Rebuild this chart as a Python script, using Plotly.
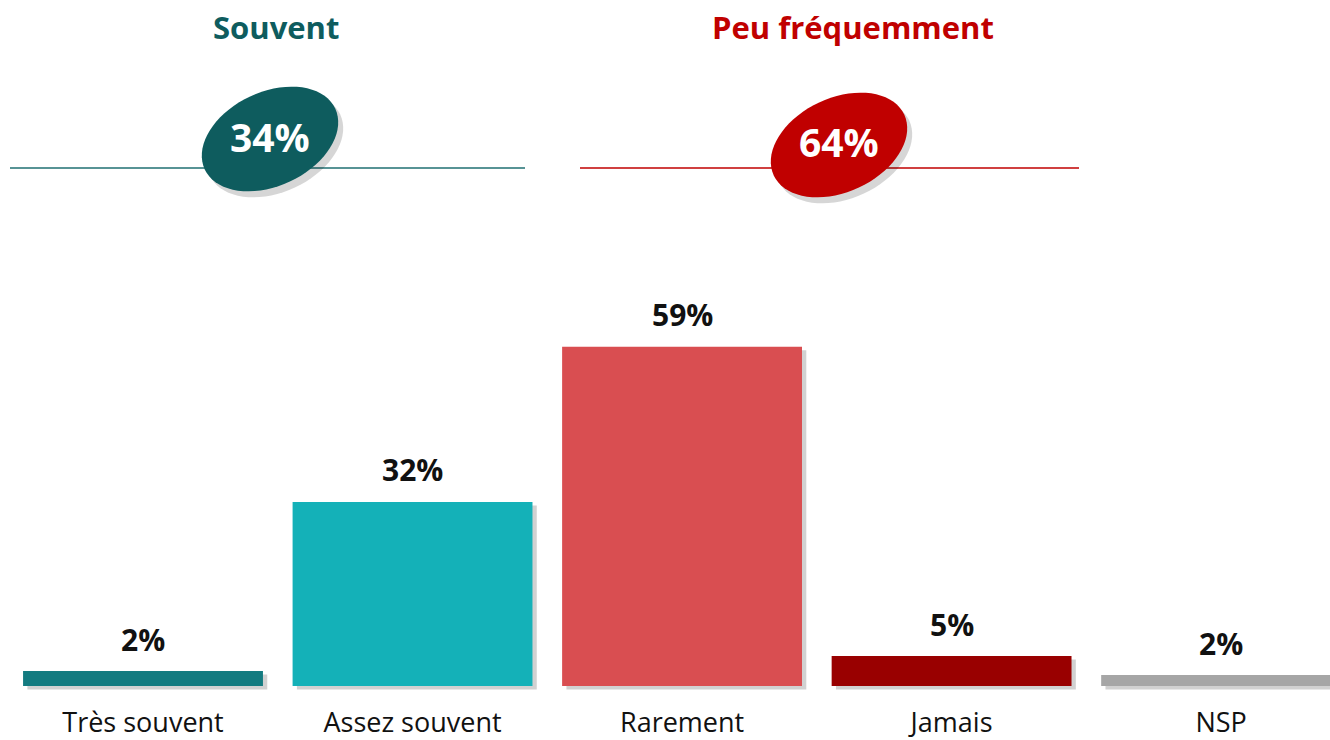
import math
import plotly.graph_objects as go

categories = ["Très souvent", "Assez souvent", "Rarement", "Jamais", "NSP"]
values = [2.6, 32, 59, 5.2, 1.9]
value_labels = ["2%", "32%", "59%", "5%", "2%"]
bar_colors = ["#137b80", "#14b1b8", "#d94e51", "#990000", "#a6a6a6"]

group_titles = ["Souvent", "Peu fréquemment"]
group_totals = ["34%", "64%"]
group_colors = ["#0e5c5e", "#c00000"]
group_line_colors = ["#1f6f72", "#c00000"]

W, H = 1330, 740
ML, MR, MT, MB = 8, 0, 0, 50
PW, PH = W - ML - MR, H - MT - MB
XR = [-0.5009, 4.404]
YR = [-0.7, 119.3]
FONT = "Open Sans"


def px(x):
    return (x - ML) / PW


def py(y):
    return (H - MB - y) / PH


def ellipse_path(cx, cy, a, b, ang, n=72):
    th = math.radians(ang)
    ux, uy = math.cos(th), -math.sin(th)
    vx, vy = math.sin(th), math.cos(th)
    pts = []
    for k in range(n):
        t = 2 * math.pi * k / n
        x = cx + a * math.cos(t) * ux + b * math.sin(t) * vx
        y = cy + a * math.cos(t) * uy + b * math.sin(t) * vy
        pts.append(f"{px(x):.5f},{py(y):.5f}")
    return "M " + " L ".join(pts) + " Z"


fig = go.Figure()
bw = 0.89
fig.add_trace(go.Bar(
    x=categories, y=values, base=-0.6, width=bw, offset=-bw / 2 + 0.016,
    marker=dict(color="rgba(0,0,0,0.18)", line=dict(width=0)),
    hoverinfo="skip", showlegend=False,
))
fig.add_trace(go.Bar(
    x=categories, y=values, width=bw, offset=-bw / 2,
    marker=dict(color=bar_colors, line=dict(width=0)),
    showlegend=False,
))

annotations = []
for c, v, lab in zip(categories, values, value_labels):
    annotations.append(dict(
        x=c, y=v, xref="x", yref="y", text=f"<b>{lab}</b>", showarrow=False,
        yanchor="middle", yshift=32, font=dict(family=FONT, size=30, color="#111111"),
    ))

# header groups
headers = [
    dict(tx=276, lx0=10, lx1=525, ecx=270, ecy=139),
    dict(tx=853, lx0=580, lx1=1079, ecx=839, ecy=145),
]
shapes = []
for h, title, total, col, lcol in zip(headers, group_titles, group_totals, group_colors, group_line_colors):
    shapes.append(dict(type="line", xref="paper", yref="paper",
                       x0=px(h["lx0"]), x1=px(h["lx1"]), y0=py(168), y1=py(168),
                       line=dict(color=lcol, width=1.6)))
    shapes.append(dict(type="path", xref="paper", yref="paper",
                       path=ellipse_path(h["ecx"] + 5, h["ecy"] + 6, 72, 47, 25),
                       fillcolor="rgba(0,0,0,0.16)", line=dict(width=0)))
    shapes.append(dict(type="path", xref="paper", yref="paper",
                       path=ellipse_path(h["ecx"], h["ecy"], 72, 47, 25),
                       fillcolor=col, line=dict(width=0)))
    annotations.append(dict(x=px(h["tx"]), y=py(27), xref="paper", yref="paper",
                            text=f"<b>{title}</b>", showarrow=False,
                            xanchor="center", yanchor="middle",
                            font=dict(family=FONT, size=31, color=col)))
    annotations.append(dict(x=px(h["ecx"]), y=py(h["ecy"] - 3), xref="paper", yref="paper",
                            text=f"<b>{total}</b>", showarrow=False,
                            xanchor="center", yanchor="middle",
                            font=dict(family=FONT, size=39, color="white")))

fig.update_layout(
    width=W, height=H,
    margin=dict(l=ML, r=MR, t=MT, b=MB, pad=0),
    paper_bgcolor="white", plot_bgcolor="white",
    barmode="overlay",
    shapes=shapes, annotations=annotations,
    xaxis=dict(range=XR, showgrid=False, zeroline=False, showline=False, ticks="",
               tickfont=dict(family=FONT, size=27, color="#111111"),
               ticklabelstandoff=14, automargin=False, fixedrange=True),
    yaxis=dict(range=YR, visible=False, automargin=False, fixedrange=True),
    font=dict(family=FONT),
)

fig.write_html("out.html", config={"displayModeBar": False},
               post_script="document.body.style.margin='0';document.body.style.overflow='hidden';")
